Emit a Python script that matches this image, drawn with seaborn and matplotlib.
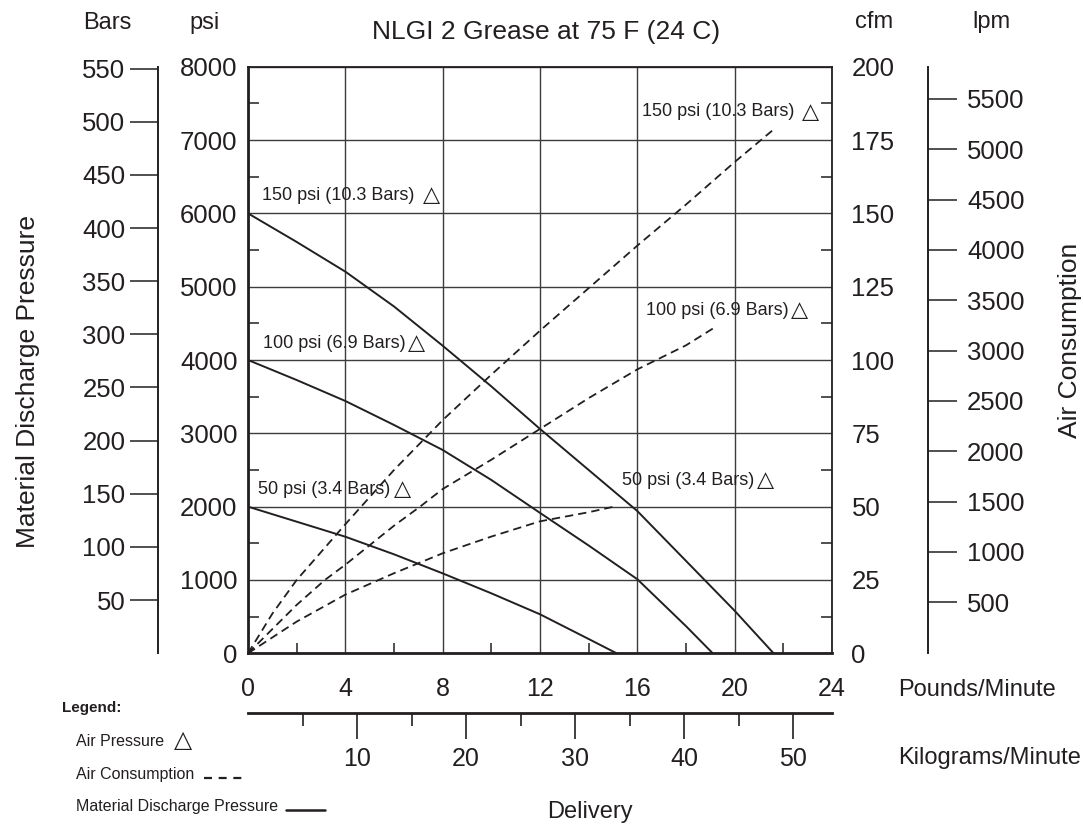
import matplotlib
matplotlib.use("Agg")
import matplotlib.pyplot as plt
from matplotlib.lines import Line2D
from matplotlib.ticker import FixedLocator
import pandas as pd
import seaborn as sns

# ---- values --------------------------------------------------------------
# material discharge pressure (psi) vs delivery (lb/min)
mat_lb_150 = [0, 2, 4, 6, 8, 10, 12, 14, 16, 18, 20, 21.6]
mat_psi_150 = [6000, 5610, 5205, 4730, 4195, 3640, 3060, 2500, 1940, 1260, 580, 0]
mat_lb_100 = [0, 2, 4, 6, 8, 10, 12, 14, 16, 18, 19.1]
mat_psi_100 = [4000, 3727, 3441, 3114, 2773, 2364, 1915, 1470, 1010, 370, 0]
mat_lb_50 = [0, 2, 4, 6, 8, 10, 12, 14, 15.15]
mat_psi_50 = [2000, 1795, 1590, 1350, 1090, 818, 532, 195, 0]

# air consumption (cfm) vs delivery (lb/min)
air_lb_150 = [0, 1, 2, 4, 6, 8, 10, 12, 14, 16, 18, 20, 21.6]
air_cfm_150 = [0, 13.5, 25, 44, 62.5, 79.5, 95, 110, 124.5, 139, 153, 167.5, 178.6]
air_lb_100 = [0, 2, 3.16, 4, 6, 7.07, 8, 10, 12, 14, 16, 18, 19.1]
air_cfm_100 = [0, 16.5, 25, 30.2, 43.5, 50, 56, 66, 76.5, 87, 96.8, 105, 110.7]
air_lb_50 = [0, 2, 4, 6, 8, 10, 12, 14, 15.15]
air_cfm_50 = [0, 10.8, 20, 27.3, 34.1, 39.8, 45, 48.1, 50.2]

# scales
psi_ticks = [0, 1000, 2000, 3000, 4000, 5000, 6000, 7000, 8000]
bar_ticks = [50, 100, 150, 200, 250, 300, 350, 400, 450, 500, 550]
cfm_ticks = [0, 25, 50, 75, 100, 125, 150, 175, 200]
lpm_ticks = [500, 1000, 1500, 2000, 2500, 3000, 3500, 4000, 4500, 5000, 5500]
lpm_range = (-7, 5820)
lb_ticks = [0, 4, 8, 12, 16, 20, 24]
kg_ticks = [10, 20, 30, 40, 50]
kg_minor = [5, 15, 25, 35, 45]
psi_per_bar = 14.5
kg_per_lb = 2.232  # as the kg scale is drawn on the chart

INK = "#231f20"
GRID = "#3c3c3c"

sns.set_theme(style="ticks")
plt.rcParams["font.family"] = ["Liberation Sans", "DejaVu Sans"]
plt.rcParams["text.color"] = INK
plt.rcParams["xtick.color"] = INK
plt.rcParams["ytick.color"] = INK

W, H = 1083, 825


def fx(px):
    return px / W


def fy(py):
    return 1 - py / H


fig = plt.figure(figsize=(W / 100, H / 100), dpi=100)
ax = fig.add_axes([fx(248), fy(653.3), (832 - 248) / W, (653.3 - 66.7) / H])

# long-form tables for seaborn
mat = pd.DataFrame({
    "lb": mat_lb_150 + mat_lb_100 + mat_lb_50,
    "psi": mat_psi_150 + mat_psi_100 + mat_psi_50,
    "air": ["150"] * len(mat_lb_150) + ["100"] * len(mat_lb_100) + ["50"] * len(mat_lb_50),
})
air = pd.DataFrame({
    "lb": air_lb_150 + air_lb_100 + air_lb_50,
    "cfm": air_cfm_150 + air_cfm_100 + air_cfm_50,
    "air": ["150"] * len(air_lb_150) + ["100"] * len(air_lb_100) + ["50"] * len(air_lb_50),
})

sns.lineplot(data=mat, x="lb", y="psi", units="air", estimator=None, sort=False,
             color=INK, linewidth=1.4, ax=ax, legend=False)

# cfm scale on the right spine
ax_cfm = ax.twinx()
sns.lineplot(data=air, x="lb", y="cfm", units="air", estimator=None, sort=False,
             color=INK, linewidth=1.3, linestyle="--", ax=ax_cfm, legend=False)
for ln in ax_cfm.lines:
    ln.set_dashes([4.6, 2.8])

ax.set_xlim(lb_ticks[0], lb_ticks[-1])
ax.set_ylim(psi_ticks[0], psi_ticks[-1])
ax.set_xticks(lb_ticks)
ax.set_yticks(psi_ticks)
ax.xaxis.set_minor_locator(FixedLocator([v + 2 for v in lb_ticks[:-1]]))
ax.yaxis.set_minor_locator(FixedLocator([v + 500 for v in psi_ticks[:-1]]))
ax.set_xlabel("")
ax.set_ylabel("")
ax.grid(True, which="major", color=GRID, linewidth=1.0)
ax.tick_params(axis="y", which="major", left=True, length=0, pad=7.5, labelsize=18.5)
ax.tick_params(axis="y", which="minor", left=True, direction="in", length=8, width=1.1, color=INK)
ax.tick_params(axis="x", which="major", bottom=True, length=0, pad=17, labelsize=18)
ax.tick_params(axis="x", which="minor", bottom=True, direction="in", length=7.5, width=1.1, color=INK)
for side in ["left", "bottom"]:
    ax.spines[side].set_linewidth(2.0)
    ax.spines[side].set_color(INK)
for side in ["top", "right"]:
    ax.spines[side].set_linewidth(1.3)
    ax.spines[side].set_color(INK)

ax_cfm.set_ylim(cfm_ticks[0], cfm_ticks[-1])
ax_cfm.set_yticks(cfm_ticks)
ax_cfm.yaxis.set_minor_locator(FixedLocator([v + 12.5 for v in cfm_ticks[:-1]]))
ax_cfm.set_ylabel("")
ax_cfm.tick_params(axis="y", which="major", right=True, length=0, pad=14, labelsize=18.5)
ax_cfm.tick_params(axis="y", which="minor", right=True, direction="in", length=8, width=1.1, color=INK)
for s in ax_cfm.spines.values():
    s.set_visible(False)

# bars scale, out to the left
ax_bar = ax.twinx()
ax_bar.set_ylim(psi_ticks[0] / psi_per_bar, psi_ticks[-1] / psi_per_bar)
ax_bar.yaxis.tick_left()
ax_bar.spines["left"].set_position(("axes", (158 - 248) / 584))
for side in ["top", "right", "bottom"]:
    ax_bar.spines[side].set_visible(False)
ax_bar.spines["left"].set_visible(True)
ax_bar.spines["left"].set_linewidth(1.4)
ax_bar.spines["left"].set_color(INK)
ax_bar.set_yticks(bar_ticks)
ax_bar.tick_params(axis="y", which="major", direction="out", length=20, width=1.1,
                   pad=3.5, labelsize=18.5, left=True, right=False,
                   labelleft=True, labelright=False)

# lpm scale, out to the right
ax_lpm = ax.twinx()
ax_lpm.set_ylim(*lpm_range)
ax_lpm.spines["right"].set_position(("axes", (928 - 248) / 584))
for side in ["top", "left", "bottom"]:
    ax_lpm.spines[side].set_visible(False)
ax_lpm.spines["right"].set_linewidth(1.4)
ax_lpm.spines["right"].set_color(INK)
ax_lpm.set_yticks(lpm_ticks)
ax_lpm.tick_params(axis="y", which="major", direction="out", length=21, width=1.1,
                   pad=7, labelsize=18.5)

# kilograms scale under the plot
sec = ax.secondary_xaxis((653.3 - 712.7) / 586.6,
                         functions=(lambda v: v * kg_per_lb, lambda v: v / kg_per_lb))
sec.set_xticks(kg_ticks)
sec.xaxis.set_minor_locator(FixedLocator(kg_minor))
sec.tick_params(axis="x", which="major", direction="out", length=19, width=1.2,
                pad=6, labelsize=18)
sec.tick_params(axis="x", which="minor", direction="out", length=9.5, width=1.2)
sec.spines["bottom"].set_linewidth(2.0)
sec.spines["bottom"].set_color(INK)

# curve labels
curve_labels = [
    ("150 psi (10.3 Bars)", 0.56, 6250, 6.5),
    ("100 psi (6.9 Bars)", 0.6, 4227, 2.0),
    ("50 psi (3.4 Bars)", 0.42, 2240, 2.5),
    ("150 psi (10.3 Bars)", 16.2, 7386, 5.0),
    ("100 psi (6.9 Bars)", 16.35, 4681, 2.0),
    ("50 psi (3.4 Bars)", 15.36, 2363, 2.0),
]
for text, x, y, gap in curve_labels:
    t = ax.text(x, y, text, fontsize=13, ha="left", va="center", zorder=5)
    ax.annotate("\u25b3", xy=(1, 0.5), xycoords=t, xytext=(gap, 0),
                textcoords="offset points", ha="left", va="center",
                fontsize=16, family="DejaVu Sans", zorder=5)

# titles and scale names
fig.text(fx(107.5), fy(23), "Bars", ha="center", va="center", fontsize=17)
fig.text(fx(205), fy(23), "psi", ha="center", va="center", fontsize=17)
fig.text(fx(546), fy(32), "NLGI 2 Grease at 75 F (24 C)", ha="center", va="center", fontsize=19)
fig.text(fx(874), fy(21.5), "cfm", ha="center", va="center", fontsize=17)
fig.text(fx(991), fy(22), "lpm", ha="center", va="center", fontsize=17)
fig.text(fx(28), fy(381), "Material Discharge Pressure", rotation=90,
         ha="center", va="center", fontsize=19)
fig.text(fx(1070), fy(340), "Air Consumption", rotation=90,
         ha="center", va="center", fontsize=19)
fig.text(fx(898), fy(690), "Pounds/Minute", ha="left", va="center", fontsize=17)
fig.text(fx(898), fy(758), "Kilograms/Minute", ha="left", va="center", fontsize=17)
fig.text(fx(590), fy(812), "Delivery", ha="center", va="center", fontsize=17)

# legend block
fig.text(fx(62), fy(708), "Legend:", ha="left", va="center", fontsize=11, fontweight="bold")
fig.text(fx(76), fy(742), "Air Pressure", ha="left", va="center", fontsize=11.5)
fig.text(fx(183), fy(740), "\u25b3", ha="center", va="center", fontsize=17, family="DejaVu Sans")
fig.text(fx(76), fy(775), "Air Consumption", ha="left", va="center", fontsize=11.5)
fig.add_artist(Line2D([fx(204), fx(243)], [fy(778), fy(778)], transform=fig.transFigure,
                      color=INK, linewidth=1.6, dashes=[3.6, 3.0]))
fig.text(fx(76), fy(806), "Material Discharge Pressure", ha="left", va="center", fontsize=11.5)
fig.add_artist(Line2D([fx(286), fx(325)], [fy(810), fy(810)], transform=fig.transFigure,
                      color=INK, linewidth=1.8))

fig.savefig("out.png", dpi=100)
